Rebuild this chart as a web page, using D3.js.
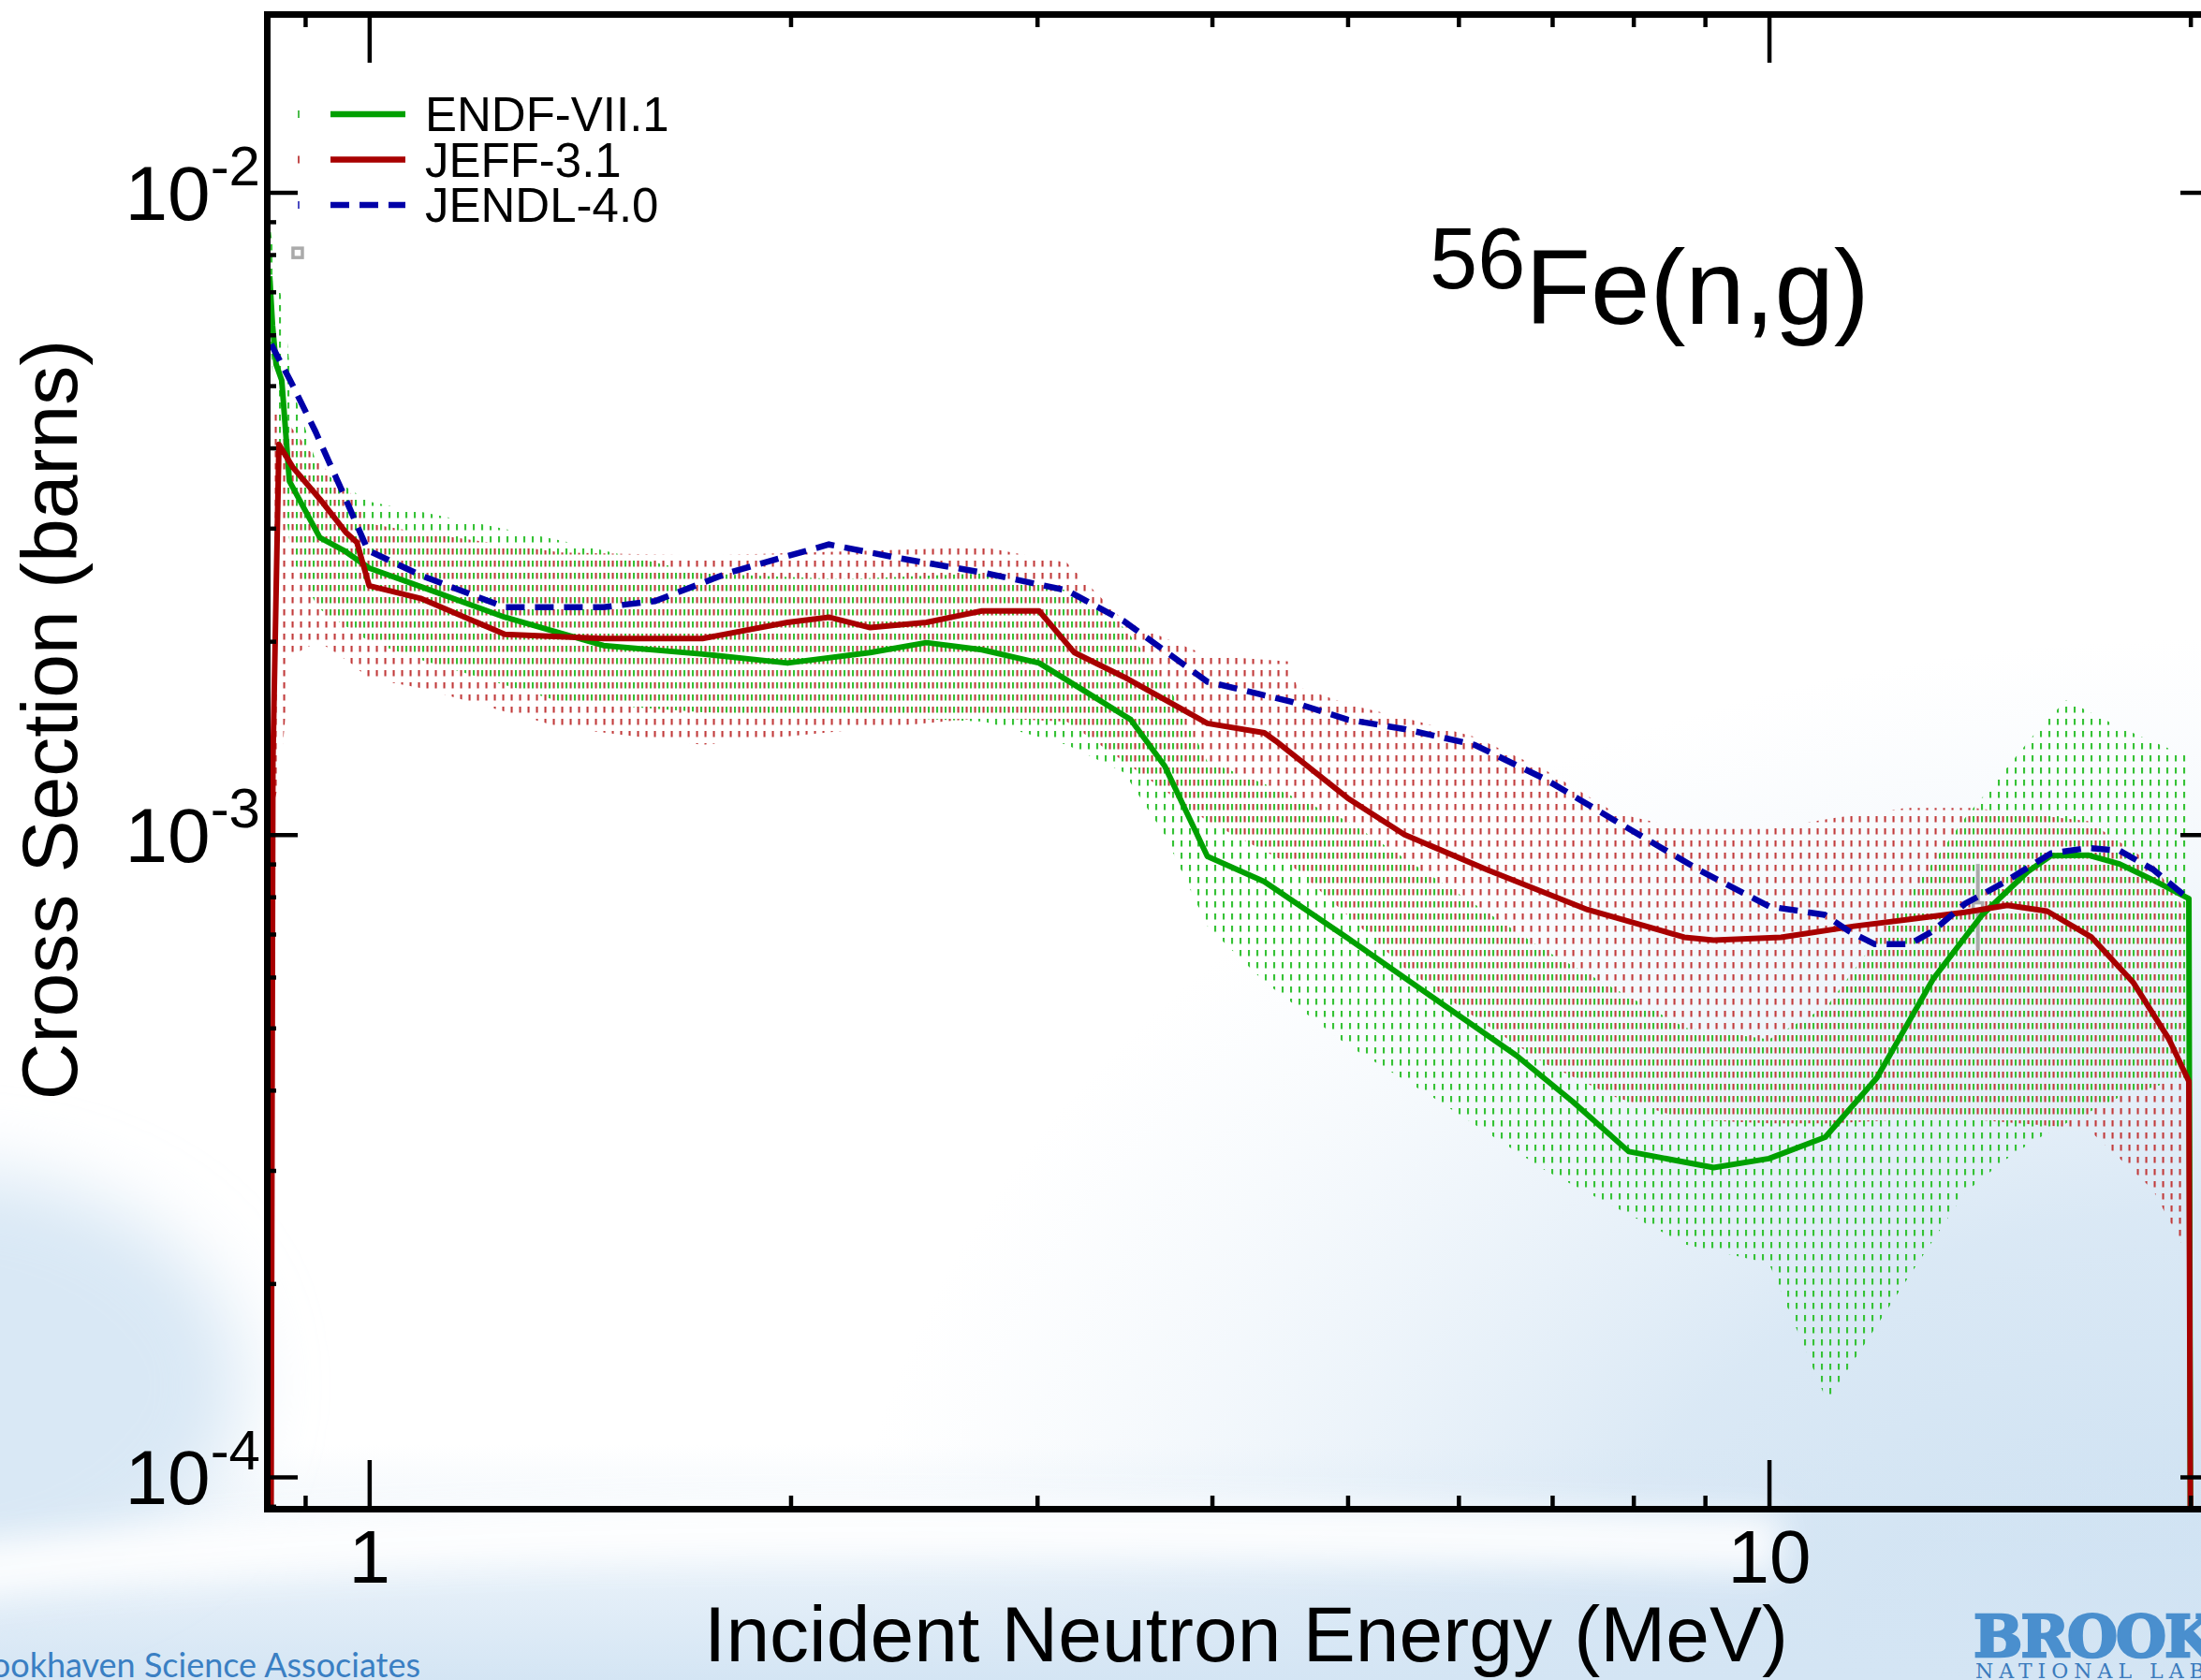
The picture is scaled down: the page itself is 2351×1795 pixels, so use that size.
<!DOCTYPE html>
<html>
<head>
<meta charset="utf-8">
<script src="https://cdn.jsdelivr.net/npm/d3@7"></script>
<style>
html, body { margin: 0; padding: 0; background: #fff; }
svg { display: block; font-family: "Liberation Sans", Arial, sans-serif; }
</style>
</head>
<body>
<svg id="chart" width="2351" height="1795"></svg>
<script>
// ---- data (energy in MeV, cross section in barns) ----
var seriesNames = ["ENDF-VII.1", "JEFF-3.1", "JENDL-4.0"];

var endfE  = [0.849, 0.853, 0.858, 0.866, 0.877, 0.922, 0.959, 1.0, 1.09, 1.25, 1.47, 1.73, 1.99, 2.28, 2.5, 2.74, 3.01, 3.22, 3.5, 3.7, 3.97, 4.36, 5.0, 5.75, 6.6, 7.24, 7.94, 9.13, 10.0, 10.97, 11.94, 13.1, 14.2, 15.3, 15.9, 16.9, 17.8, 18.8, 19.95, 20.0];
var endfXs = [7.4e-3, 6.2e-3, 5.4e-3, 5.1e-3, 3.55e-3, 2.9e-3, 2.77e-3, 2.6e-3, 2.43e-3, 2.18e-3, 1.97e-3, 1.91e-3, 1.85e-3, 1.92e-3, 1.99e-3, 1.94e-3, 1.85e-3, 1.69e-3, 1.51e-3, 1.28e-3, 9.25e-4, 8.45e-4, 6.9e-4, 5.58e-4, 4.53e-4, 3.84e-4, 3.21e-4, 3.03e-4, 3.13e-4, 3.38e-4, 4.18e-4, 5.96e-4, 7.5e-4, 8.75e-4, 9.27e-4, 9.29e-4, 9.0e-4, 8.5e-4, 7.95e-4, 0];

var jeffE  = [0.851, 0.8535, 0.862, 0.882, 0.922, 0.963, 0.98, 1.0, 1.09, 1.25, 1.47, 1.73, 1.99, 2.13, 2.28, 2.5, 2.74, 3.01, 3.19, 3.46, 3.97, 4.36, 4.44, 5.0, 5.49, 6.3, 7.42, 8.7, 9.13, 10.2, 11.5, 12.6, 13.8, 14.8, 15.8, 17.0, 18.2, 19.3, 19.95, 20.0];
var jeffXs = [0, 1.3e-3, 4.05e-3, 3.73e-3, 3.33e-3, 2.95e-3, 2.85e-3, 2.44e-3, 2.33e-3, 2.05e-3, 2.02e-3, 2.02e-3, 2.14e-3, 2.18e-3, 2.1e-3, 2.14e-3, 2.23e-3, 2.23e-3, 1.92e-3, 1.76e-3, 1.49e-3, 1.44e-3, 1.40e-3, 1.14e-3, 1.0e-3, 8.8e-4, 7.64e-4, 6.92e-4, 6.85e-4, 6.92e-4, 7.2e-4, 7.38e-4, 7.57e-4, 7.76e-4, 7.6e-4, 6.92e-4, 5.89e-4, 4.81e-4, 4.13e-4, 0];

var jendlE  = [0.851, 0.878, 0.915, 0.958, 0.998, 1.09, 1.25, 1.47, 1.6, 1.81, 2.13, 2.4, 2.74, 3.15, 3.46, 3.97, 4.56, 5.0, 5.49, 6.16, 6.92, 7.77, 8.93, 10.0, 10.96, 11.4, 11.9, 12.6, 13.1, 13.8, 14.7, 15.9, 16.9, 17.8, 18.8, 19.95];
var jendlXs = [5.8e-3, 5.1e-3, 4.25e-3, 3.4e-3, 2.77e-3, 2.53e-3, 2.26e-3, 2.26e-3, 2.31e-3, 2.56e-3, 2.83e-3, 2.69e-3, 2.56e-3, 2.4e-3, 2.15e-3, 1.73e-3, 1.61e-3, 1.51e-3, 1.46e-3, 1.38e-3, 1.22e-3, 1.05e-3, 8.79e-4, 7.73e-4, 7.5e-4, 7.08e-4, 6.75e-4, 6.75e-4, 7.08e-4, 7.8e-4, 8.41e-4, 9.35e-4, 9.53e-4, 9.44e-4, 8.83e-4, 7.94e-4];

// uncertainty bands
var endfBandE  = [0.849, 0.858, 0.87, 0.88, 0.92, 1.0, 1.09, 1.37, 1.73, 2.18, 2.75, 3.15, 3.46, 3.7, 3.97, 4.36, 5.0, 5.75, 6.92, 8.72, 10.0, 11.0, 12.3, 13.8, 14.7, 15.5, 16.3, 17.8, 19.95];
var endfBandLo = [6.0e-3, 4.4e-3, 3.3e-3, 2.7e-3, 2.25e-3, 2.0e-3, 1.87e-3, 1.61e-3, 1.55e-3, 1.53e-3, 1.5e-3, 1.38e-3, 1.25e-3, 1.0e-3, 7.2e-4, 5.9e-4, 4.7e-4, 3.9e-4, 3.0e-4, 2.3e-4, 2.15e-4, 1.31e-4, 1.9e-4, 2.77e-4, 3.1e-4, 3.35e-4, 3.55e-4, 3.9e-4, 4.2e-4];
var endfBandHi = [9.0e-3, 7.5e-3, 6.5e-3, 5.0e-3, 3.7e-3, 3.3e-3, 3.18e-3, 2.87e-3, 2.55e-3, 2.5e-3, 2.55e-3, 2.4e-3, 2.1e-3, 1.75e-3, 1.3e-3, 1.2e-3, 1.05e-3, 8.6e-4, 6.6e-4, 5.0e-4, 4.8e-4, 5.4e-4, 7.5e-4, 1.06e-3, 1.25e-3, 1.44e-3, 1.62e-3, 1.47e-3, 1.32e-3];

var jeffBandE  = [0.853, 0.862, 0.88, 0.92, 0.97, 1.0, 1.09, 1.37, 1.73, 2.18, 2.75, 3.15, 3.46, 3.97, 4.54, 4.6, 5.03, 5.49, 6.16, 6.92, 7.77, 8.72, 10.0, 11.1, 12.5, 14.0, 16.9, 18.8, 19.95];
var jeffBandLo = [1.1e-3, 1.2e-3, 1.9e-3, 2.0e-3, 1.85e-3, 1.75e-3, 1.69e-3, 1.47e-3, 1.38e-3, 1.45e-3, 1.52e-3, 1.5e-3, 1.3e-3, 1.05e-3, 9.0e-4, 8.8e-4, 7.4e-4, 6.2e-4, 5.2e-4, 4.4e-4, 3.9e-4, 3.6e-4, 3.55e-4, 3.55e-4, 3.6e-4, 3.6e-4, 3.48e-4, 2.8e-4, 2.2e-4];
var jeffBandHi = [4.6e-3, 4.6e-3, 4.3e-3, 3.8e-3, 3.4e-3, 3.05e-3, 2.95e-3, 2.75e-3, 2.72e-3, 2.76e-3, 2.8e-3, 2.65e-3, 2.15e-3, 1.9e-3, 1.86e-3, 1.7e-3, 1.59e-3, 1.52e-3, 1.42e-3, 1.26e-3, 1.08e-3, 1.02e-3, 1.02e-3, 1.06e-3, 1.1e-3, 1.1e-3, 1.05e-3, 9.0e-4, 7.5e-4];

// measured points (grey)
var expE     = [0.889, 14.1];
var expXs    = [8.05e-3, 7.7e-4];
var expErrLo = [7.9e-3, 6.6e-4];
var expErrHi = [8.2e-3, 9.0e-4];

// axes
var xMajorTicks = [1, 10];
var xMajorLabels = ["1", "10"];
var xMinorTicks = [0.9, 2, 3, 4, 5, 6, 7, 8, 9, 20];
var yMajorTicks = [1e-4, 1e-3, 1e-2];
var yMajorExp = ["-4", "-3", "-2"];
var yMinorTicks = [9e-5, 2e-4, 3e-4, 4e-4, 5e-4, 6e-4, 7e-4, 8e-4, 9e-4, 2e-3, 3e-3, 4e-3, 5e-3, 6e-3, 7e-3, 8e-3, 9e-3];

// ---- layout ----
var W = 2351, H = 1795;
var pLeft = 285, pRight = 2362, pTop = 15, pBottom = 1612;
var colors = {endf: "#00a000", jeff: "#a80000", jendl: "#0000a8"};

var svg = d3.select("#chart");

var x = d3.scaleLog().domain([0.845, 20.7]).range([pLeft, pRight]);
var y = d3.scaleLog().domain([8.92e-5, 1.895e-2]).range([pBottom, pTop]).clamp(true);

var defs = svg.append("defs");

// background: white slide with pale blue corners and a white swoosh
var g1 = defs.append("linearGradient").attr("id", "bgV").attr("x1", 0).attr("y1", 0).attr("x2", 0).attr("y2", 1);
g1.append("stop").attr("offset", 0).attr("stop-color", "#d4e5f4").attr("stop-opacity", 0);
g1.append("stop").attr("offset", 0.86).attr("stop-color", "#d4e5f4").attr("stop-opacity", 0);
g1.append("stop").attr("offset", 1).attr("stop-color", "#d4e5f4").attr("stop-opacity", 1);
var g2 = defs.append("radialGradient").attr("id", "bgR").attr("cx", 1).attr("cy", 1).attr("r", 0.62);
g2.append("stop").attr("offset", 0).attr("stop-color", "#cadff1").attr("stop-opacity", 1);
g2.append("stop").attr("offset", 0.45).attr("stop-color", "#d6e6f4").attr("stop-opacity", 0.9);
g2.append("stop").attr("offset", 1).attr("stop-color", "#e6f0f9").attr("stop-opacity", 0);
defs.append("filter").attr("id", "soft").attr("filterUnits", "userSpaceOnUse")
  .attr("x", -600).attr("y", 800).attr("width", 1400).attr("height", 1200)
  .append("feGaussianBlur").attr("stdDeviation", 40);
defs.append("filter").attr("id", "soft2").attr("filterUnits", "userSpaceOnUse")
  .attr("x", -400).attr("y", 1300).attr("width", 3200).attr("height", 700)
  .append("feGaussianBlur").attr("stdDeviation", 18);

svg.append("rect").attr("width", W).attr("height", H).attr("fill", "#ffffff");
svg.append("rect").attr("width", W).attr("height", H).attr("fill", "url(#bgR)");
svg.append("rect").attr("width", W).attr("height", H).attr("fill", "url(#bgV)");
svg.append("ellipse").attr("cx", -60).attr("cy", 1480).attr("rx", 320).attr("ry", 230)
  .attr("fill", "#d9e8f5").attr("filter", "url(#soft)");
svg.append("path").attr("d", "M-200,1700 C300,1630 900,1620 1900,1650")
  .attr("fill", "none").attr("stroke", "#ffffff").attr("stroke-width", 60)
  .attr("opacity", 0.9).attr("filter", "url(#soft2)");

// hatch patterns (short vertical dashes)
function hatch(id, color, dx) {
  var p = defs.append("pattern").attr("id", id).attr("patternUnits", "userSpaceOnUse")
    .attr("width", 9).attr("height", 13);
  p.append("rect").attr("x", dx).attr("y", 1).attr("width", 2.1).attr("height", 6.5).attr("fill", color);
}
hatch("hatchGreen", "#36c236", 1);
hatch("hatchRed", "#c23c3c", 5.5);

defs.append("clipPath").attr("id", "plotClip").append("rect")
  .attr("x", pLeft).attr("y", pTop).attr("width", pRight - pLeft).attr("height", pBottom - pTop);

var plot = svg.append("g").attr("clip-path", "url(#plotClip)");

var area = d3.area().x(function(d) { return x(d[0]); })
  .y0(function(d) { return y(d[1]); }).y1(function(d) { return y(d[2]); });
var line = d3.line().x(function(d) { return x(d[0]); }).y(function(d) { return y(d[1]); });

plot.append("path").datum(d3.zip(endfBandE, endfBandLo, endfBandHi))
  .attr("d", area).attr("fill", "url(#hatchGreen)");
plot.append("path").datum(d3.zip(jeffBandE, jeffBandLo, jeffBandHi))
  .attr("d", area).attr("fill", "url(#hatchRed)");

// measured points
plot.selectAll(".err").data(d3.range(expE.length)).enter().append("line")
  .attr("x1", function(i) { return x(expE[i]); }).attr("x2", function(i) { return x(expE[i]); })
  .attr("y1", function(i) { return y(expErrLo[i]); }).attr("y2", function(i) { return y(expErrHi[i]); })
  .attr("stroke", "#aaaaaa").attr("stroke-width", 4);
plot.selectAll(".pt").data(d3.range(expE.length)).enter().append("rect")
  .attr("x", function(i) { return x(expE[i]) - 5; }).attr("y", function(i) { return y(expXs[i]) - 5; })
  .attr("width", 10).attr("height", 10)
  .attr("fill", "#ffffff").attr("stroke", "#aaaaaa").attr("stroke-width", 3.5);

plot.append("path").datum(d3.zip(endfE, endfXs)).attr("d", line)
  .attr("fill", "none").attr("stroke", colors.endf).attr("stroke-width", 6).attr("stroke-linejoin", "round");
plot.append("path").datum(d3.zip(jeffE, jeffXs)).attr("d", line)
  .attr("fill", "none").attr("stroke", colors.jeff).attr("stroke-width", 6).attr("stroke-linejoin", "round");
plot.append("path").datum(d3.zip(jendlE, jendlXs)).attr("d", line)
  .attr("fill", "none").attr("stroke", colors.jendl).attr("stroke-width", 6.5)
  .attr("stroke-dasharray", "20,11");

// ---- axes ----
function styleAxis(g) {
  g.select(".domain").attr("stroke", "#000").attr("stroke-width", 7).attr("stroke-linecap", "square");
  g.selectAll(".tick line").attr("stroke", "#000").attr("stroke-width", 4.5);
  g.selectAll("text").attr("fill", "#000").attr("font-family", "Liberation Sans, Arial, sans-serif");
}

var gxb = svg.append("g").attr("transform", "translate(0," + pBottom + ")")
  .call(d3.axisBottom(x).tickValues(xMajorTicks).tickSize(-52).tickSizeOuter(0).tickPadding(22)
    .tickFormat(function(d, i) { return xMajorLabels[i]; }));
gxb.selectAll("text").attr("font-size", 80);
styleAxis(gxb);
var gxbm = svg.append("g").attr("transform", "translate(0," + pBottom + ")")
  .call(d3.axisBottom(x).tickValues(xMinorTicks).tickSize(-14).tickSizeOuter(0).tickFormat(""));
styleAxis(gxbm);

var gxt = svg.append("g").attr("transform", "translate(0," + pTop + ")")
  .call(d3.axisTop(x).tickValues(xMajorTicks).tickSize(-52).tickSizeOuter(0).tickFormat(""));
styleAxis(gxt);
var gxtm = svg.append("g").attr("transform", "translate(0," + pTop + ")")
  .call(d3.axisTop(x).tickValues(xMinorTicks).tickSize(-14).tickSizeOuter(0).tickFormat(""));
styleAxis(gxtm);

var gyl = svg.append("g").attr("transform", "translate(" + pLeft + ",0)")
  .call(d3.axisLeft(y).tickValues(yMajorTicks).tickSize(-33).tickSizeOuter(0).tickPadding(7));
gyl.selectAll(".tick text").each(function(d, i) {
  var t = d3.select(this).text(null).attr("dy", null).attr("y", 29).attr("font-size", 82);
  t.append("tspan").text("10");
  t.append("tspan").attr("font-size", 60).attr("dy", -37).text(yMajorExp[i]);
});
styleAxis(gyl);
var gylm = svg.append("g").attr("transform", "translate(" + pLeft + ",0)")
  .call(d3.axisLeft(y).tickValues(yMinorTicks).tickSize(-10).tickSizeOuter(0).tickFormat(""));
styleAxis(gylm);

var gyr = svg.append("g").attr("transform", "translate(" + pRight + ",0)")
  .call(d3.axisRight(y).tickValues(yMajorTicks).tickSize(-33).tickSizeOuter(0).tickFormat(""));
styleAxis(gyr);
var gyrm = svg.append("g").attr("transform", "translate(" + pRight + ",0)")
  .call(d3.axisRight(y).tickValues(yMinorTicks).tickSize(-10).tickSizeOuter(0).tickFormat(""));
styleAxis(gyrm);

// axis titles
svg.append("text").attr("x", 1331).attr("y", 1775)
  .attr("text-anchor", "middle").attr("font-size", 84).attr("fill", "#000")
  .text("Incident Neutron Energy (MeV)");
svg.append("text").attr("transform", "translate(82,769) rotate(-90)")
  .attr("text-anchor", "middle").attr("font-size", 84).attr("fill", "#000")
  .text("Cross Section (barns)");

// reaction label
var title = svg.append("text").attr("x", 1527).attr("y", 346).attr("fill", "#000");
title.append("tspan").attr("font-size", 92).attr("dy", -38).text("56");
title.append("tspan").attr("font-size", 114).attr("dy", 38).text("Fe(n,g)");

// legend
var legendColors = [colors.endf, colors.jeff, colors.jendl];
var leg = svg.append("g").selectAll("g").data(seriesNames).enter().append("g")
  .attr("transform", function(d, i) { return "translate(0," + (122 + i * 48.5) + ")"; });
leg.append("rect").attr("x", 318).attr("y", -4).attr("width", 2).attr("height", 8)
  .attr("fill", function(d, i) { return legendColors[i]; }).attr("opacity", 0.7);
leg.append("line").attr("x1", 353).attr("x2", 433).attr("y1", 0).attr("y2", 0)
  .attr("stroke", function(d, i) { return legendColors[i]; }).attr("stroke-width", 6.5)
  .attr("stroke-dasharray", function(d, i) { return i === 2 ? "20,11" : null; });
leg.append("text").attr("x", 454).attr("y", 18).attr("font-size", 51).attr("fill", "#000")
  .text(function(d) { return d; });

// footer branding
svg.append("text").attr("x", 449).attr("y", 1792).attr("text-anchor", "end")
  .attr("font-family", "Lato, 'Open Sans', sans-serif").attr("font-size", 36).attr("fill", "#3a7fc3")
  .text("Brookhaven Science Associates");
svg.append("text").attr("x", 2108).attr("y", 1770)
  .attr("font-family", "'DejaVu Serif', serif").attr("font-weight", "bold").attr("font-size", 62)
  .attr("fill", "#4a8fce").attr("stroke", "#4a8fce").attr("stroke-width", 2.5)
  .attr("letter-spacing", -2).text("BROOKHAVEN");
svg.append("text").attr("x", 2110).attr("y", 1793)
  .attr("font-family", "'DejaVu Serif', serif").attr("font-size", 22)
  .attr("fill", "#3b7bbd").attr("letter-spacing", 6).text("NATIONAL LABORATORY");
</script>
</body>
</html>
